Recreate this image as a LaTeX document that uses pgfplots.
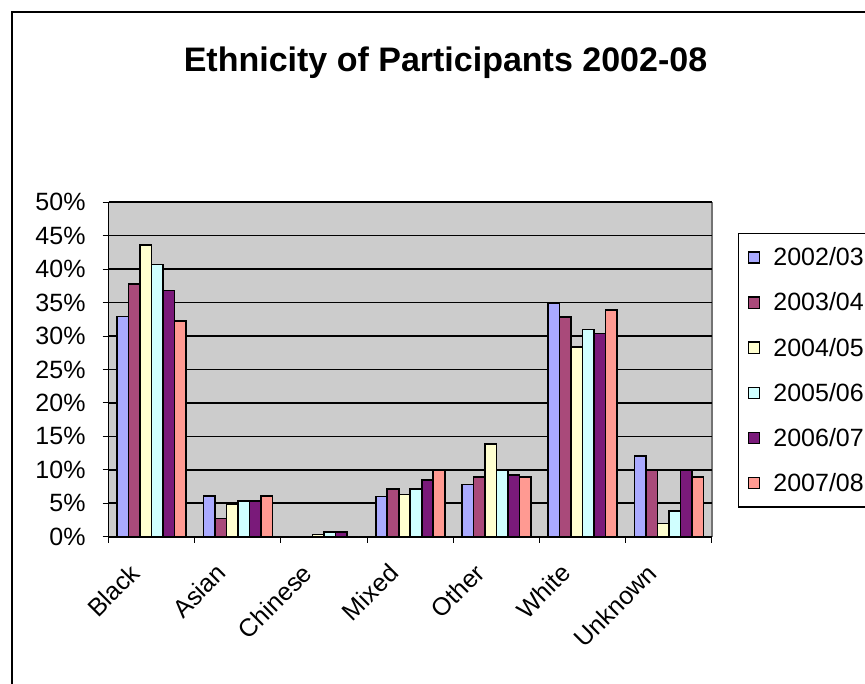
\documentclass[border=0pt]{standalone}
\usepackage{pgfplots}
\pgfplotsset{compat=1.18}
\usepackage{pgfplotstable}
\usepackage{fontspec}
\setmainfont{Liberation Sans}

\definecolor{plotbg}{HTML}{CCCCCC}
\definecolor{cA}{HTML}{AAAAFF}
\definecolor{cB}{HTML}{A94A7A}
\definecolor{cC}{HTML}{FFFFD0}
\definecolor{cD}{HTML}{D0FFFF}
\definecolor{cE}{HTML}{7A1A7A}
\definecolor{cF}{HTML}{FF9A92}

% share of participants (%) by ethnic group, one column per year
% categories: 0 Black, 1 Asian, 2 Chinese, 3 Mixed, 4 Other, 5 White, 6 Unknown
\pgfplotstableread{
cat y0203 y0304 y0405 y0506 y0607 y0708
0   32.9  37.8  43.6  40.7  36.8  32.2
1   6.1   2.7   4.9   5.3   5.3   6.1
2   0     0     0.3   0.7   0.7   0
3   6.0   7.1   6.3   7.1   8.5   9.9
4   7.8   8.9   13.9  9.9   9.2   8.9
5   34.9  32.8  28.4  31.0  30.4  33.9
6   12.1  9.9   2.0   3.8   9.9   8.9
}\ethnicity

\begin{document}
\begin{tikzpicture}[x=1pt,y=1pt]
\begin{axis}[
  at={(108.5pt,146.3pt)}, anchor=south west,
  scale only axis, width=603.4pt, height=334.5pt,
  ybar=0pt, bar width=11.5pt,
  xmin=-0.5, xmax=6.5, ymin=0, ymax=50,
  axis x line*=bottom, axis y line*=left,
  axis line style={black, line width=1.6pt},
  axis background/.style={fill=plotbg, draw=black!55, line width=1.2pt},
  ytick={0,5,...,50},
  yticklabel={\pgfmathprintnumber{\tick}\%},
  /pgf/number format/assume math mode=true,
  ymajorgrids, major grid style={black, line width=1.6pt},
  xtick={0,...,6},
  xticklabels={Black,Asian,Chinese,Mixed,Other,White,Unknown},
  minor xtick={-0.5,0.5,...,6.5},
  tick align=outside,
  major tick length=6pt, minor tick length=6pt,
  tick style={black, line width=1pt},
  major x tick style={draw=none},
  tick label style={font=\fontsize{25}{25}\selectfont},
  yticklabel style={anchor=east, inner sep=0pt, xshift=-16.8pt},
  xticklabel style={inner sep=0pt, xshift=-16.4pt, yshift=-26pt, rotate=45, anchor=east},
  legend image code/.code={\draw[#1, draw=black, line width=1.4pt] (0pt,-5.6pt) rectangle (11.3pt,5.6pt);},
  legend cell align=left,
  legend style={at={(1.0432,0.908)}, anchor=north west,
    draw=black, line width=1.5pt, fill=white,
    font=\fontsize{25}{25}\selectfont,
    inner xsep=9pt, inner ysep=14pt,
    nodes={inner sep=0pt}, row sep=25.5pt, column sep=13pt},
]
\addplot[fill=cA, draw=black, line width=1.6pt] table[x=cat, y=y0203] {\ethnicity};
\addplot[fill=cB, draw=black, line width=1.6pt] table[x=cat, y=y0304] {\ethnicity};
\addplot[fill=cC, draw=black, line width=1.6pt] table[x=cat, y=y0405] {\ethnicity};
\addplot[fill=cD, draw=black, line width=1.6pt] table[x=cat, y=y0506] {\ethnicity};
\addplot[fill=cE, draw=black, line width=1.6pt] table[x=cat, y=y0607] {\ethnicity};
\addplot[fill=cF, draw=black, line width=1.6pt] table[x=cat, y=y0708] {\ethnicity};
\legend{2002/03,2003/04,2004/05,2005/06,2006/07,2007/08}
\end{axis}
\node[font=\bfseries\fontsize{34}{34}\selectfont, anchor=base] at (445.5,611) {Ethnicity of Participants 2002-08};
\draw[line width=2pt] (11.5,-20) -- (11.5,670.5) -- (900,670.5);
\pgfresetboundingbox
\useasboundingbox (0,0) rectangle (865,683);
\end{tikzpicture}
\end{document}
